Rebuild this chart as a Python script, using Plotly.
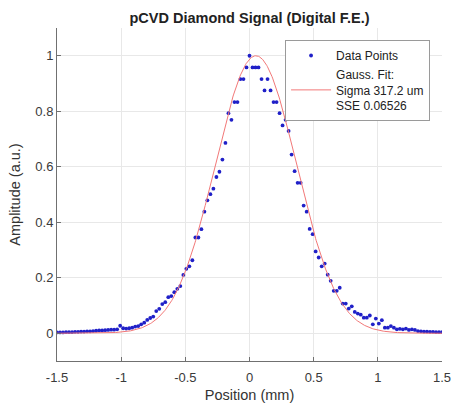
import numpy as np
import plotly.graph_objects as go

# Scan positions (mm), step 3/128 mm
positions = [
    -1.5000, -1.4766, -1.4531, -1.4297, -1.4063, -1.3828, -1.3594, -1.3359,
    -1.3125, -1.2891, -1.2656, -1.2422, -1.2188, -1.1953, -1.1719, -1.1484,
    -1.1250, -1.1016, -1.0781, -1.0547, -1.0313, -1.0078, -0.9844, -0.9609,
    -0.9375, -0.9141, -0.8906, -0.8672, -0.8438, -0.8203, -0.7969, -0.7734,
    -0.7500, -0.7266, -0.7031, -0.6797, -0.6563, -0.6328, -0.6094, -0.5859,
    -0.5625, -0.5391, -0.5156, -0.4922, -0.4688, -0.4453, -0.4219, -0.3984,
    -0.3750, -0.3516, -0.3281, -0.3047, -0.2813, -0.2578, -0.2344, -0.2109,
    -0.1875, -0.1641, -0.1406, -0.1172, -0.0938, -0.0703, -0.0469, -0.0234,
    0.0000,
    0.0234, 0.0469, 0.0703, 0.0938, 0.1172, 0.1406, 0.1641, 0.1875,
    0.2109, 0.2344, 0.2578, 0.2813, 0.3047, 0.3281, 0.3516, 0.3750,
    0.3984, 0.4219, 0.4453, 0.4688, 0.4922, 0.5156, 0.5391, 0.5625,
    0.5859, 0.6094, 0.6328, 0.6563, 0.6797, 0.7031, 0.7266, 0.7500,
    0.7734, 0.7969, 0.8203, 0.8438, 0.8672, 0.8906, 0.9141, 0.9375,
    0.9609, 0.9844, 1.0078, 1.0313, 1.0547, 1.0781, 1.1016, 1.1250,
    1.1484, 1.1719, 1.1953, 1.2188, 1.2422, 1.2656, 1.2891, 1.3125,
    1.3359, 1.3594, 1.3828, 1.4063, 1.4297, 1.4531, 1.4766, 1.5000,
]

amplitude = [
    0.003, 0.003, 0.003, 0.004, 0.004, 0.004, 0.005, 0.005,
    0.006, 0.006, 0.007, 0.007, 0.008, 0.009, 0.010, 0.010,
    0.011, 0.012, 0.013, 0.013, 0.014, 0.027, 0.018, 0.017,
    0.018, 0.020, 0.024, 0.026, 0.032, 0.038, 0.048, 0.055,
    0.060, 0.080, 0.088, 0.105, 0.112, 0.130, 0.134, 0.148,
    0.160, 0.170, 0.210, 0.232, 0.241, 0.263, 0.345, 0.345,
    0.375, 0.438, 0.479, 0.501, 0.521, 0.563, 0.582, 0.626,
    0.686, 0.793, 0.769, 0.833, 0.833, 0.916, 0.916, 0.958,
    1.000,
    0.958, 0.958, 0.958, 0.916, 0.875, 0.916, 0.875, 0.833,
    0.833, 0.793, 0.749, 0.769, 0.729, 0.644, 0.584, 0.542,
    0.542, 0.460, 0.438, 0.376, 0.357, 0.295, 0.273, 0.241,
    0.251, 0.211, 0.189, 0.153, 0.153, 0.164, 0.107, 0.107,
    0.089, 0.097, 0.077, 0.071, 0.067, 0.056, 0.056, 0.064,
    0.032, 0.053, 0.035, 0.047, 0.020, 0.020, 0.026, 0.020,
    0.014, 0.016, 0.014, 0.017, 0.012, 0.014, 0.012, 0.008,
    0.007, 0.006, 0.006, 0.005, 0.005, 0.004, 0.004, 0.004,
]

# Gaussian fit parameters (sigma from legend: 317.2 um)
fit_amp = 1.0
fit_mu = 0.05
fit_sigma = 0.3172

x_ticks = [-1.5, -1, -0.5, 0, 0.5, 1, 1.5]
x_ticklabels = ["-1.5", "-1", "-0.5", "0", "0.5", "1", "1.5"]
y_ticks = [0, 0.2, 0.4, 0.6, 0.8, 1]
y_ticklabels = ["0", "0.2", "0.4", "0.6", "0.8", "1"]

xf = np.linspace(-1.5, 1.5, 601)
yf = fit_amp * np.exp(-0.5 * ((xf - fit_mu) / fit_sigma) ** 2)

FONT = "Liberation Sans, Arial, Helvetica, sans-serif"

fig = go.Figure()
fig.add_trace(go.Scatter(
    x=positions, y=amplitude, mode="markers", name="Data Points",
    marker=dict(color="#2020c8", size=3.8, line=dict(width=0)),
))
fig.add_trace(go.Scatter(
    x=xf, y=yf, mode="lines",
    name="Gauss. Fit:<br>Sigma 317.2 um<br>SSE 0.06526",
    line=dict(color="#f27878", width=1),
))

axis_common = dict(
    showgrid=True, gridcolor="#e8e8e8", gridwidth=1,
    showline=True, linecolor="#707070", linewidth=1,
    ticks="inside", ticklen=4, tickcolor="#707070",
    tickfont=dict(family=FONT, size=13, color="#3a3a3a"),
    zeroline=False, mirror=False, automargin=False,
)

fig.update_layout(
    width=454, height=406,
    margin=dict(l=57, r=12, t=28, b=45, autoexpand=False),
    paper_bgcolor="white", plot_bgcolor="white",
    title=dict(text="<b>pCVD Diamond Signal (Digital F.E.)</b>",
               x=0.5, xanchor="center", y=0.955, yanchor="middle",
               xref="paper", yref="container",
               font=dict(family=FONT, size=14.5, color="#222"), automargin=False),
    xaxis=dict(range=[-1.5, 1.5], tickvals=x_ticks, ticktext=x_ticklabels,
               ticklabelstandoff=4,
               title=dict(text="Position (mm)", font=dict(family=FONT, size=14.5, color="#333"),
                          standoff=6),
               **axis_common),
    yaxis=dict(range=[-0.1, 1.1], tickvals=y_ticks, ticktext=y_ticklabels,
               title=dict(text="Amplitude (a.u.)", font=dict(family=FONT, size=14.5, color="#333"),
                          standoff=11),
               **axis_common),
    legend=dict(x=0.969, xanchor="right", y=0.964, yanchor="top",
                bgcolor="white", bordercolor="#9a9a9a", borderwidth=1,
                font=dict(family=FONT, size=12, color="#222"),
                tracegroupgap=0, itemwidth=40),
    showlegend=True,
)

fig.write_html(
    "out.html",
    config={"displayModeBar": False},
    post_script="document.body.style.margin='0';document.body.style.overflow='hidden';",
)
